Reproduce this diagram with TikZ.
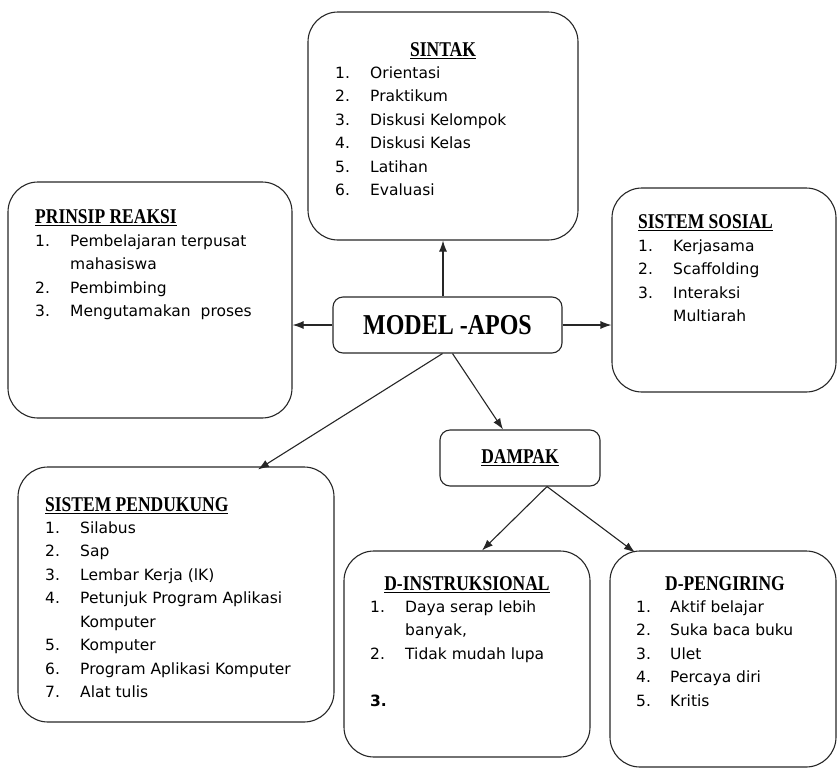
\documentclass[tikz,border=0pt]{standalone}
\usepackage{fontspec}
\setmainfont{DejaVu Sans}
\newfontfamily\headfont{Liberation Serif}
\usepackage{array}
\usetikzlibrary{arrows.meta}

\begin{document}
\begin{tikzpicture}[
  x=1pt,y=-1pt,
  bigbox/.style={rectangle,draw=black!85,line width=1.1pt,rounded corners=30pt,inner sep=0pt},
  smallbox/.style={rectangle,draw=black!85,line width=1.1pt,rounded corners=10pt,inner sep=0pt},
  head/.style={inner sep=0pt,font=\headfont\bfseries\fontsize{17.5}{20}\selectfont},
  items/.style={inner sep=0pt,font=\fontsize{15.5}{23.5}\selectfont},
  arrow/.style={-{Latex[length=11pt,width=8pt]},line width=1.1pt,black!85}
]
  \useasboundingbox (0,0) rectangle (838,769);

  % Boxes
  \node[bigbox,minimum width=270pt,minimum height=228pt] (sintak) at (443,126) {};
  \node[bigbox,minimum width=284pt,minimum height=236pt] (prinsip) at (150,300) {};
  \node[bigbox,minimum width=224pt,minimum height=204pt] (sosial) at (724,290) {};
  \node[smallbox,minimum width=229pt,minimum height=56pt,font=\headfont\bfseries\fontsize{24}{28}\selectfont] (model) at (447.5,325) {\scalebox{1}[1.2]{MODEL -APOS}};
  \node[smallbox,minimum width=160pt,minimum height=56pt,font=\headfont\bfseries\fontsize{17.5}{20}\selectfont] (dampak) at (520,458) {\scalebox{1}[1.2]{\underline{DAMPAK}}};
  \node[bigbox,minimum width=316pt,minimum height=255pt] (pendukung) at (176,594.5) {};
  \node[bigbox,minimum width=246pt,minimum height=206pt] (dinstr) at (467,654) {};
  \node[bigbox,minimum width=226pt,minimum height=216pt] (dpeng) at (723,659) {};

  % Sintak
  \node[head,anchor=base] (sintak-h) at (443,56) {\scalebox{1}[1.2]{\underline{SINTAK}}};
  \node[items,anchor=base west] (sintak-l) at (335,78) {\begin{tabular}[t]{@{}p{35pt}@{}l@{}}
    1. & Orientasi\\
    2. & Praktikum\\
    3. & Diskusi Kelompok\\
    4. & Diskusi Kelas\\
    5. & Latihan\\
    6. & Evaluasi
  \end{tabular}};

  % Prinsip reaksi
  \node[head,anchor=base west] (prinsip-h) at (35,223) {\scalebox{1}[1.2]{\underline{PRINSIP REAKSI}}};
  \node[items,anchor=base west] (prinsip-l) at (35,246) {\begin{tabular}[t]{@{}p{35pt}@{}l@{}}
    1. & Pembelajaran terpusat\\
       & mahasiswa\\
    2. & Pembimbing\\
    3. & Mengutamakan\ \ proses
  \end{tabular}};

  % Sistem sosial
  \node[head,anchor=base west] (sosial-h) at (638,228) {\scalebox{1}[1.2]{\underline{SISTEM SOSIAL}}};
  \node[items,anchor=base west] (sosial-l) at (638,251) {\begin{tabular}[t]{@{}p{35pt}@{}l@{}}
    1. & Kerjasama\\
    2. & Scaffolding\\
    3. & Interaksi\\
       & Multiarah
  \end{tabular}};

  % Sistem pendukung
  \node[head,anchor=base west] (pendukung-h) at (45,511) {\scalebox{1}[1.2]{\underline{SISTEM PENDUKUNG}}};
  \node[items,anchor=base west] (pendukung-l) at (45,533) {\begin{tabular}[t]{@{}p{35pt}@{}l@{}}
    1. & Silabus\\
    2. & Sap\\
    3. & Lembar Kerja (lK)\\
    4. & Petunjuk Program Aplikasi\\
       & Komputer\\
    5. & Komputer\\
    6. & Program Aplikasi Komputer\\
    7. & Alat tulis
  \end{tabular}};

  % Dampak instruksional
  \node[head,anchor=base] (dinstr-h) at (467,590) {\scalebox{1}[1.2]{\underline{D-INSTRUKSIONAL}}};
  \node[items,anchor=base west] (dinstr-l) at (370,612) {\begin{tabular}[t]{@{}p{35pt}@{}l@{}}
    1. & Daya serap lebih\\
       & banyak,\\
    2. & Tidak mudah lupa\\
       & \\
    \textbf{3.} &
  \end{tabular}};

  % Dampak pengiring
  \node[head,anchor=base] (dpeng-h) at (725,590) {\scalebox{1}[1.2]{D-PENGIRING}};
  \node[items,anchor=base west] (dpeng-l) at (636,612) {\begin{tabular}[t]{@{}p{34pt}@{}l@{}}
    1. & Aktif belajar\\
    2. & Suka baca buku\\
    3. & Ulet\\
    4. & Percaya diri\\
    5. & Kritis
  \end{tabular}};

  % Arrows
  \draw[arrow] (model.north -| sintak.south) -- (sintak.south);
  \draw[arrow] (model.west) -- (model.west -| prinsip.east);
  \draw[arrow] (model.east) -- (model.east -| sosial.west);
  \draw[arrow] ([xshift=5pt]model.south) -- ([xshift=-17pt]dampak.north);
  \draw[arrow] ([xshift=-5pt]model.south) -- ([xshift=82pt,yshift=-3pt]pendukung.north);
  \draw[arrow] ([xshift=27pt]dampak.south) -- ([xshift=15pt]dinstr.north);
  \draw[arrow] ([xshift=27pt]dampak.south) -- ([xshift=-88pt,yshift=-2pt]dpeng.north);
\end{tikzpicture}
\end{document}
